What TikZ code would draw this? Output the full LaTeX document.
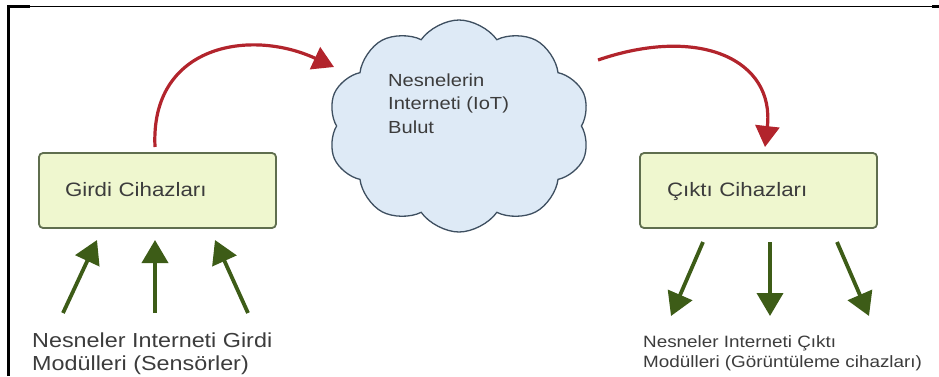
\documentclass[tikz,border=0pt]{standalone}
\usepackage{fontspec}
\setmainfont[FakeStretch=1.15]{Liberation Sans}
\usetikzlibrary{arrows.meta,shapes.symbols}
\definecolor{boxfill}{HTML}{EFF7CF}
\definecolor{boxline}{HTML}{5F6E4E}
\definecolor{cloudfill}{HTML}{DEEAF6}
\definecolor{cloudline}{HTML}{3E4F60}
\definecolor{redarrow}{HTML}{B2242C}
\definecolor{greenarrow}{HTML}{3D5C17}
\definecolor{txt}{HTML}{3C3C3C}
\tikzset{
  devbox/.style={draw=boxline, fill=boxfill, line width=1.8pt, rounded corners=4pt,
    minimum height=75pt, align=left, text height=14pt, text depth=3pt,
    font=\fontsize{19.4}{23}\selectfont, text=txt},
  redarr/.style={draw=redarrow, line width=3.2pt, -{Triangle[width=24pt,length=21pt]}},
  greenarr/.style={draw=greenarrow, line width=3.8pt, -{Triangle[width=26pt,length=23pt]}},
  lbl/.style={anchor=north west, inner sep=0pt, align=left, text=txt},
  frame/.style={draw=black}
}
\begin{document}
\begin{tikzpicture}[x=1pt,y=-1pt]
\useasboundingbox (0,0) rectangle (939,376);
% frame
\draw[frame, line width=2.6pt] (8.7,376) -- (8.7,6.6) -- (30,6.6);
\draw[frame, line width=1pt] (30,6.7) -- (932,6.7);
\draw[frame, line width=2.6pt] (932,6.6) -- (939,6.6);
% boxes
\node[devbox, text width=185pt, inner xsep=26pt] (girdi) at (157.5,190.5) {Girdi Cihazları};
\node[devbox, text width=183pt, inner xsep=27pt] (cikti) at (758.5,190.5) {Çıktı Cihazları};
% cloud
\node[cloud, cloud puffs=10, cloud puff arc=110, aspect=1.2, draw=cloudline, fill=cloudfill,
  line width=1.3pt, minimum width=262pt, minimum height=212pt] (bulut) at (459,126) {};
\node[lbl, font=\fontsize{17.5}{23.5}\selectfont] (bulutmetin) at (388,73.5)
  {Nesnelerin\\Interneti (IoT)\\Bulut};
% red arrows
\coordinate (r1s) at (155,147);
\coordinate (r1e) at (334,67);
\coordinate (r2s) at (598,60);
\coordinate (r2e) at (765,147);
\draw[redarr] (r1s) .. controls (150,45) and (250,28) .. (r1e);
\draw[redarr] (r2s) .. controls (700,25) and (775,60) .. (r2e);
% bottom labels
\node[lbl, font=\fontsize{20.3}{23.5}\selectfont] (girdimod) at (32,332.5)
  {Nesneler Interneti Girdi\\Modülleri (Sensörler)};
\node[lbl, font=\fontsize{16.4}{20.5}\selectfont] (ciktimod) at (643,335.3)
  {Nesneler Interneti Çıktı\\Modülleri (Görüntüleme cihazları)};
% green arrows (input)
\coordinate (g1s) at (63,313);  \coordinate (g1e) at (97,240);
\coordinate (g2s) at (155,313); \coordinate (g2e) at (155,240);
\coordinate (g3s) at (248,313); \coordinate (g3e) at (215,240);
\draw[greenarr] (g1s) -- (g1e);
\draw[greenarr] (g2s) -- (g2e);
\draw[greenarr] (g3s) -- (g3e);
% green arrows (output)
\coordinate (h1s) at (703,242); \coordinate (h1e) at (671,316);
\coordinate (h2s) at (770,242); \coordinate (h2e) at (770,316);
\coordinate (h3s) at (837,242); \coordinate (h3e) at (869,316);
\draw[greenarr] (h1s) -- (h1e);
\draw[greenarr] (h2s) -- (h2e);
\draw[greenarr] (h3s) -- (h3e);
\end{tikzpicture}
\end{document}
